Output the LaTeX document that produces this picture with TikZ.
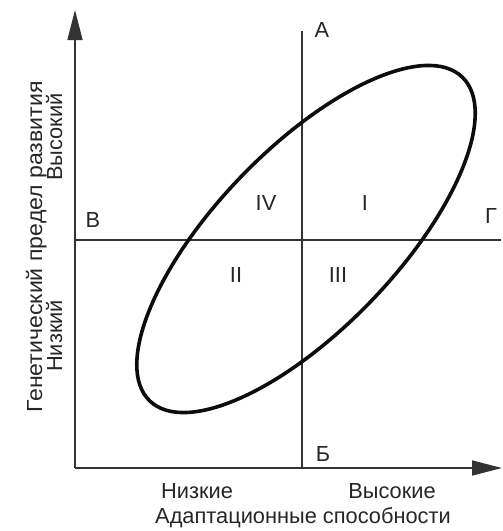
\documentclass[tikz,border=0pt]{standalone}
\usepackage{fontspec}
\setmainfont{Liberation Sans}
\usetikzlibrary{arrows.meta}
\begin{document}
\begin{tikzpicture}[x=1pt,y=-1pt,
  axis/.style={draw=black!80,line width=1.6pt},
  guide/.style={draw=black!80,line width=1.4pt},
  curve/.style={draw=black!95,line width=3.6pt},
  lbl/.style={text=black!85,inner sep=0pt,anchor=base,font=\fontsize{21.8}{25}\selectfont},
  tip/.style={-{Triangle[length=30pt,width=15pt]}}]
\useasboundingbox (0,0) rectangle (503,531);
% axes
\coordinate (O) at (75,468);
\coordinate (ytop) at (75,10);
\coordinate (xend) at (502,468);
\draw[axis,tip] (O) -- (ytop);
\draw[axis,tip] (O) -- (xend);
% quadrant lines
\coordinate (vtop) at (302,31);
\coordinate (vbot) at (302,468);
\coordinate (hleft) at (75,240);
\coordinate (hright) at (501,240);
\draw[guide] (vtop) -- (vbot);
\draw[guide] (hleft) -- (hright);
% ellipse
\coordinate (c) at (306,239);
\draw[curve,rotate around={46:(c)}] (c) ellipse [x radius=225pt,y radius=90pt];
% letters
\node[lbl] (A) at (322,37) {А};
\node[lbl] (B) at (323,461) {Б};
\node[lbl] (V) at (93,227) {В};
\node[lbl] (G) at (491,223) {Г};
% quadrant numerals
\node[lbl] (q4) at (266,210) {IV};
\node[lbl] (q1) at (365,210) {I};
\node[lbl] (q2) at (236,282) {II};
\node[lbl] (q3) at (338,282) {III};
% axis labels
\node[lbl,rotate=90] (yhi) at (62,137) {Высокий};
\node[lbl,rotate=90] (ylo) at (62,336) {Низкий};
\node[lbl,rotate=90,xscale=1.06] (ytitle) at (42,247) {Генетический предел развития};
\node[lbl] (xlo) at (197,498) {Низкие};
\node[lbl] (xhi) at (392,498) {Высокие};
\node[lbl] (xtitle) at (303,523) {Адаптационные способности};
\end{tikzpicture}
\end{document}
